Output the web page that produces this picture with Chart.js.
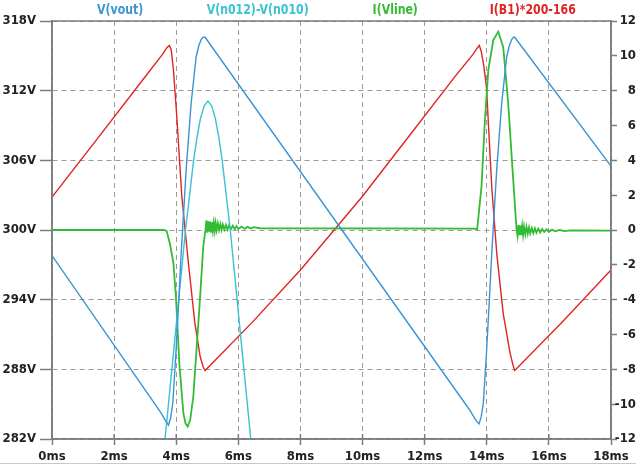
<!DOCTYPE html>
<html>
<head>
<meta charset="utf-8">
<script src="https://cdn.jsdelivr.net/npm/chart.js@4"></script>
<style>
  html, body { margin: 0; padding: 0; background: #fff; overflow: hidden; }
  #wrap { width: 636px; height: 467px; overflow: hidden; }
</style>
</head>
<body>
<div id="wrap"><canvas id="plot" width="645" height="467"></canvas></div>
<script>
// trace titles, shown across the top in their trace colour
const trace_names = ["V(vout)", "V(n012)-V(n010)", "I(Vline)", "I(B1)*200-166"];
const trace_colors = ["#3a94d4", "#38c2d2", "#33bb33", "#e02424"];

// axes
const x_ticks = [0, 2, 4, 6, 8, 10, 12, 14, 16, 18];     // ms
const v_ticks = [282, 288, 294, 300, 306, 312, 318];    // V (left)
const i_ticks = [-12, -10, -8, -6, -4, -2, 0, 2, 4, 6, 8, 10, 12]; // A (right)

// V(vout)
const vout_t = [0, 3.5, 3.65, 3.75, 3.82, 3.89, 3.99, 4.08, 4.16, 4.32, 4.48, 4.64, 4.72, 4.8, 4.87, 4.93,
    13.45, 13.65, 13.75, 13.82, 13.89, 13.99, 14.08, 14.16, 14.32, 14.48, 14.64, 14.72, 14.8, 14.86, 14.9, 18];
const vout_v = [297.8, 284.3, 283.6, 283.2, 283.8, 285.1, 289.4, 293.8, 298, 305.2, 310.9, 314.9, 315.8, 316.4, 316.6, 316.6,
    284.5, 283.6, 283.3, 283.9, 285.1, 289.4, 293.8, 298, 305.2, 310.9, 314.9, 315.8, 316.4, 316.6, 316.6, 305.5];

// V(n012)-V(n010), only on screen for one hump
const diff_t = [3.45, 3.64, 3.86, 4.08, 4.3, 4.56, 4.67, 4.78, 4.9, 5.02, 5.14, 5.26, 5.37, 5.48, 5.74, 5.96, 6.18, 6.4, 6.6];
const diff_v = [276, 282, 288, 294, 300, 306, 308.0, 309.6, 310.7, 311.1, 310.7, 309.6, 308.0, 306, 300, 294, 288, 282, 276];

// I(Vline), right axis
const vline_t = [0, 3.6, 3.69, 3.8, 3.91, 3.99, 4.10, 4.23, 4.30, 4.37, 4.45, 4.55, 4.66, 4.77, 4.87, 4.95,
    4.97, 5.0, 5.03, 5.06, 5.09, 5.12, 5.15, 5.18, 5.21, 5.24, 5.27, 5.3, 5.34, 5.38, 5.42, 5.46,
    5.5, 5.55, 5.6, 5.65, 5.7, 5.76, 5.82, 5.88, 5.94, 6.0, 6.1, 6.2, 6.3, 6.4, 6.5, 6.7,
    13.6, 13.69, 13.83, 13.94, 14.05, 14.21, 14.37, 14.53, 14.69, 14.83, 14.96,
    14.99, 15.02, 15.05, 15.08, 15.11, 15.14, 15.17, 15.2, 15.24, 15.28, 15.32, 15.36, 15.4, 15.45,
    15.5, 15.55, 15.6, 15.66, 15.72, 15.78, 15.85, 15.92, 16.0, 16.1, 16.2, 16.35, 16.5, 16.7, 18];
const vline_v = [0, 0, -0.05, -0.8, -1.91, -3.82, -7.65, -10.52, -11.1, -11.29, -10.9, -9.57, -6.7, -3.83, -0.96, 0.1,
    0.55, -0.15, 0.5, -0.1, 0.48, -0.1, 0.45, -0.05, 0.42, -0.05, 0.4, 0.0, 0.38, 0.0, 0.35, 0.0,
    0.32, 0.02, 0.3, 0.02, 0.28, 0.04, 0.25, 0.05, 0.22, 0.06, 0.2, 0.07, 0.18, 0.08, 0.16, 0.1,
    0.08, 0.04, 2.49, 6.32, 9.19, 10.9, 11.39, 10.5, 7.28, 3.45, 0,
    -0.35, 0.3, -0.3, 0.25, -0.3, 0.22, -0.28, 0.2, -0.25, 0.18, -0.22, 0.15, -0.2, 0.12,
    -0.18, 0.1, -0.16, 0.08, -0.14, 0.06, -0.12, 0.04, -0.1, 0.02, -0.08, 0.0, -0.06, -0.02, -0.04];

// I(B1)*200-166
const b1_t = [0, 1.5, 3.0, 3.55, 3.7, 3.78, 3.84, 3.91, 4.01, 4.18, 4.39, 4.6, 4.77, 4.87, 4.93,
    6.43, 8.0, 9.98, 11.5, 13.0, 13.55, 13.7, 13.76, 13.82, 13.9, 13.99, 14.16, 14.32, 14.53, 14.75, 14.85, 14.9,
    16.4, 18];
const b1_v = [302.84, 308.0, 313.2, 315.1, 315.7, 315.9, 315.5, 313.8, 310.1, 302.9, 297.2, 292.0, 289.1, 288.2, 287.9,
    292.0, 296.55, 302.84, 308.1, 313.3, 315.1, 315.7, 315.9, 315.4, 314.2, 312.3, 303.7, 298.0, 292.8, 289.4, 288.3, 287.9,
    292.0, 296.55];

const FONT = "'Liberation Sans Narrow', 'DejaVu Sans Condensed', 'Arial Narrow', sans-serif";
const AXIS_GREY = "#7c7c7c";
const VIEW_W = 636;

function pts(ts, vs) {
    return ts.map((t, i) => ({ x: t, y: vs[i] }));
}

function make_set(label, color, data, axis, width) {
    return {
        label: label,
        data: data,
        yAxisID: axis,
        borderColor: color,
        borderWidth: width,
        pointRadius: 0,
        tension: 0,
        fill: false
    };
}

// titles, frame and the small inner ticks on the time axis
const decor = {
    id: "decor",
    afterDraw(chart) {
        const ctx = chart.ctx;
        const a = chart.chartArea;
        ctx.save();
        ctx.strokeStyle = AXIS_GREY;
        ctx.lineWidth = 1.5;
        ctx.strokeRect(a.left, a.top, a.right - a.left, a.bottom - a.top);
        const xs = chart.scales.x;
        ctx.beginPath();
        x_ticks.forEach((t) => {
            const px = xs.getPixelForValue(t);
            ctx.moveTo(px, a.bottom - 5);
            ctx.lineTo(px, a.bottom);
        });
        ctx.stroke();
        // window edge line
        ctx.strokeStyle = "#c8c8c8";
        ctx.lineWidth = 1;
        ctx.beginPath();
        ctx.moveTo(0, chart.height - 3.5);
        ctx.lineTo(VIEW_W, chart.height - 3.5);
        ctx.stroke();
        ctx.font = "bold 14px " + FONT;
        ctx.textAlign = "center";
        ctx.textBaseline = "middle";
        const w = a.right - a.left;
        const squeeze = 0.87;
        trace_names.forEach((name, i) => {
            const cx = a.left + w * (0.122 + i * 0.246);
            ctx.save();
            ctx.scale(squeeze, 1);
            ctx.fillStyle = trace_colors[i];
            ctx.fillText(name, cx / squeeze, 10);
            ctx.restore();
        });
        ctx.restore();
    }
};

const tick_font = { family: FONT, size: 13, weight: "bold" };

new Chart(document.getElementById("plot"), {
    type: "line",
    data: {
        datasets: [
            make_set(trace_names[0], trace_colors[0], pts(vout_t, vout_v), "y", 1.4),
            make_set(trace_names[1], trace_colors[1], pts(diff_t, diff_v), "y", 1.4),
            make_set(trace_names[2], trace_colors[2], pts(vline_t, vline_v), "y2", 1.8),
            make_set(trace_names[3], trace_colors[3], pts(b1_t, b1_v), "y", 1.4)
        ]
    },
    options: {
        responsive: false,
        animation: false,
        devicePixelRatio: 1,
        layout: { padding: { top: 21, left: 0, right: 0, bottom: 0 } },
        plugins: { legend: { display: false }, tooltip: { enabled: false } },
        scales: {
            x: {
                type: "linear",
                min: x_ticks[0],
                max: x_ticks[x_ticks.length - 1],
                afterBuildTicks: (s) => { s.ticks = x_ticks.map((v) => ({ value: v })); },
                afterFit: (s) => { s.height = 28; },
                ticks: { callback: (v) => v + "ms", color: "#222", font: tick_font, padding: 4, maxRotation: 0 },
                grid: { color: "#9a9a9a", lineWidth: 1, tickLength: 6, tickColor: AXIS_GREY, tickWidth: 1.5 },
                border: { color: AXIS_GREY, width: 1.5, dash: [5, 4] }
            },
            y: {
                position: "left",
                min: v_ticks[0],
                max: v_ticks[v_ticks.length - 1],
                afterBuildTicks: (s) => { s.ticks = v_ticks.map((v) => ({ value: v })); },
                afterFit: (s) => { s.width = 52; },
                ticks: { callback: (v) => v + "V", color: "#222", font: tick_font, padding: 4 },
                grid: { color: "#9a9a9a", lineWidth: 1, tickLength: 12, tickColor: AXIS_GREY, tickWidth: 1.5 },
                border: { color: AXIS_GREY, width: 1.5, dash: [5, 4] }
            },
            y2: {
                position: "right",
                min: i_ticks[0],
                max: i_ticks[i_ticks.length - 1],
                afterBuildTicks: (s) => { s.ticks = i_ticks.map((v) => ({ value: v })); },
                afterFit: (s) => { s.width = 34; },
                ticks: { callback: (v) => v + "A", color: "#222", font: tick_font, padding: 4, crossAlign: "far" },
                grid: { drawOnChartArea: false, tickLength: 6, tickColor: AXIS_GREY, tickWidth: 1.5 },
                border: { color: AXIS_GREY, width: 1.5 }
            }
        }
    },
    plugins: [decor]
});
</script>
</body>
</html>
